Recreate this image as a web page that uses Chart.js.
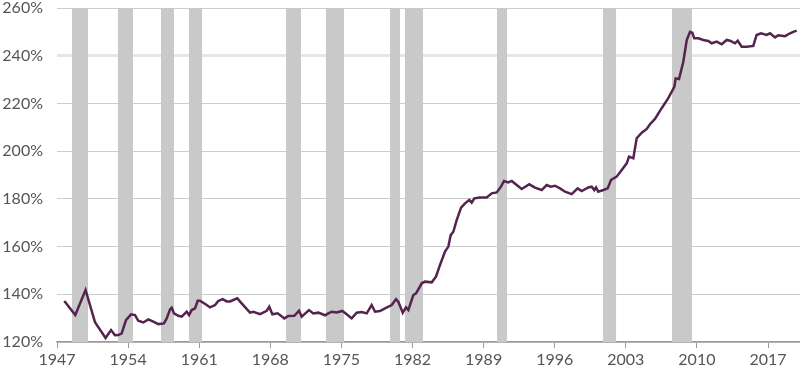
<!DOCTYPE html>
<html lang="en">
<head>
  <meta charset="UTF-8">
  <title>Ratio chart</title>
  <style>
    body { margin: 0; padding: 0; background: #fff; }
    #wrap { width: 800px; height: 375px; }
  </style>
  <script src="https://cdn.jsdelivr.net/npm/chart.js"></script>
</head>
<body>
  <div id="wrap"><canvas id="c" width="800" height="375"></canvas></div>
  <script>
    // quarterly-ish readings
    const years = [1947.72,1948.80,1949.81,1950.74,1951.78,1952.32,1952.71,1953.04,1953.37,1953.79,1954.29,1954.68,1955.00,1955.50,1955.99,1956.48,1956.97,1957.53,1957.80,1958.13,1958.29,1958.52,1958.94,1959.28,1959.77,1960.00,1960.26,1960.59,1960.85,1961.08,1961.74,1962.06,1962.56,1962.88,1963.31,1963.71,1964.03,1964.36,1964.75,1965.18,1966.00,1966.33,1966.99,1967.65,1967.90,1968.20,1968.73,1969.38,1969.77,1970.36,1970.83,1971.09,1971.81,1972.23,1972.73,1973.39,1973.71,1974.05,1974.54,1975.09,1975.52,1976.01,1976.51,1977.00,1977.49,1977.98,1978.31,1978.80,1979.29,1979.95,1980.38,1980.60,1981.04,1981.36,1981.59,1982.08,1982.35,1982.91,1983.23,1983.89,1984.31,1984.71,1985.20,1985.53,1985.76,1986.02,1986.35,1986.78,1987.17,1987.59,1987.83,1988.09,1988.65,1989.31,1989.80,1990.29,1990.71,1991.01,1991.43,1991.77,1992.26,1992.75,1993.50,1994.06,1994.72,1995.21,1995.61,1996.03,1996.52,1997.02,1997.67,1998.26,1998.66,1999.31,1999.64,1999.90,2000.07,2000.29,2000.79,2001.22,2001.54,2002.10,2002.60,2003.09,2003.32,2003.74,2004.07,2004.57,2005.06,2005.38,2005.87,2006.53,2007.18,2007.78,2007.91,2008.24,2008.66,2009.00,2009.32,2009.55,2009.74,2010.14,2010.63,2011.12,2011.46,2011.95,2012.44,2012.93,2013.26,2013.75,2014.02,2014.41,2014.90,2015.55,2015.88,2016.31,2016.87,2017.20,2017.69,2018.02,2018.68,2019.17,2019.49,2019.82];
    const values = [137.2,131.3,141.8,128.3,121.7,125.0,122.8,122.9,123.6,129.2,131.6,131.3,128.9,128.2,129.5,128.5,127.5,127.8,129.9,133.7,134.4,132.0,131.0,130.6,132.7,131.3,133.4,134.1,137.3,137.3,135.5,134.5,135.5,137.2,138.0,137.0,137.0,137.6,138.3,136.2,132.3,132.7,131.7,133.1,134.8,131.6,132.0,129.9,130.9,131.0,133.1,130.6,133.4,132.0,132.3,131.2,132.0,132.7,132.4,133.0,131.6,129.9,132.3,132.6,132.0,135.5,132.7,133.0,134.1,135.5,137.9,136.9,132.3,134.5,133.4,139.7,140.4,144.6,145.3,145.0,147.4,152.3,157.9,160.0,164.8,166.2,171.1,176.3,178.1,179.5,178.4,180.2,180.6,180.6,182.3,182.7,185.1,187.5,186.9,187.5,185.8,184.1,186.1,184.7,183.7,185.8,185.1,185.5,184.4,183.0,182.0,184.4,183.3,184.8,185.1,183.7,184.8,183.0,183.7,184.4,187.9,189.3,192.1,194.9,197.7,197.0,205.4,207.7,209.3,211.3,213.5,218.0,222.2,227.0,230.5,230.2,237.5,246.6,250.0,249.6,247.3,247.3,246.6,246.2,245.2,245.9,244.8,246.6,246.3,245.2,246.3,243.8,243.8,244.1,248.7,249.4,248.7,249.4,247.7,248.6,248.2,249.4,250.0,250.5];

    // shaded recession periods
    const recStart = [1948.48,1953.00,1957.24,1960.00,1969.55,1973.48,1979.79,1981.26,1990.32,2000.76,2007.55];
    const recEnd   = [1950.05,1954.48,1958.52,1961.28,1971.02,1975.26,1980.77,1983.03,1991.30,2002.04,2009.52];

    const xTicks = [1947,1954,1961,1968,1975,1982,1989,1996,2003,2010,2017];
    const yTicks = [120,140,160,180,200,220,240,260];

    const shading = {
      id: 'shading',
      beforeDatasetsDraw(chart) {
        const { ctx, chartArea, scales } = chart;
        ctx.save();
        ctx.fillStyle = '#c9c9c9';
        recStart.forEach((s, i) => {
          const x1 = scales.x.getPixelForValue(s);
          const x2 = scales.x.getPixelForValue(recEnd[i]);
          ctx.fillRect(x1, chartArea.top, x2 - x1, chartArea.bottom - chartArea.top);
        });
        ctx.restore();
      }
    };

    const font = { family: 'Lato, "Open Sans", sans-serif', size: 16 };

    new Chart(document.getElementById('c'), {
      type: 'line',
      data: {
        datasets: [{
          data: years.map((y, i) => ({ x: y, y: values[i] })),
          borderColor: '#54244e',
          borderWidth: 2.5,
          pointRadius: 0,
          tension: 0
        }]
      },
      options: {
        responsive: false,
        animation: false,
        layout: { padding: 0 },
        plugins: { legend: { display: false }, tooltip: { enabled: false } },
        scales: {
          x: {
            type: 'linear',
            min: 1947,
            max: 2020.15,
            afterBuildTicks(s) { s.ticks = xTicks.map(v => ({ value: v })); },
            afterFit(s) { s.height = 33; },
            grid: {
              drawOnChartArea: false,
              drawTicks: true,
              tickLength: 6,
              color: '#9a9a9a'
            },
            border: { color: '#9a9a9a', width: 1.5 },
            ticks: {
              font: font,
              color: '#555555',
              padding: 2,
              maxRotation: 0,
              autoSkip: false,
              callback: v => String(v)
            }
          },
          y: {
            min: 120,
            max: 260,
            afterBuildTicks(s) { s.ticks = yTicks.map(v => ({ value: v })); },
            afterFit(s) { s.width = 57; s.paddingTop = 8; s.paddingBottom = 0; },
            grid: {
              drawTicks: false,
              color: ctx => ctx.tick && ctx.tick.value === 240 ? '#e6e6e6' : '#cccccc',
              lineWidth: ctx => ctx.tick && ctx.tick.value === 240 ? 3 : 1
            },
            border: { display: false },
            ticks: {
              font: font,
              color: '#555555',
              padding: 14,
              callback: v => v + '%'
            }
          }
        }
      },
      plugins: [shading]
    });
  </script>
</body>
</html>
